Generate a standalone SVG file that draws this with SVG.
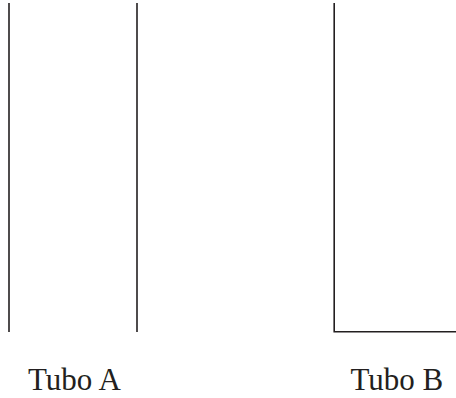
<svg xmlns="http://www.w3.org/2000/svg" width="456" height="398" viewBox="0 0 456 398">
<style>
.ln{stroke:#231f20;stroke-width:1.6;fill:none}
.lbl{font-family:"Liberation Serif","Times New Roman",serif;font-size:31px;fill:#231f20}
</style>
<rect width="456" height="398" fill="#fff"/>
<g id="tuboA">
<line class="ln" x1="9" y1="3" x2="9" y2="332"/>
<line class="ln" x1="137" y1="3" x2="137" y2="332"/>
<text class="lbl" x="28" y="390">Tubo A</text>
</g>
<g id="tuboB">
<path class="ln" d="M334.2,3 V331.8 H456"/>
<text class="lbl" x="350.5" y="390">Tubo B</text>
</g>
</svg>
